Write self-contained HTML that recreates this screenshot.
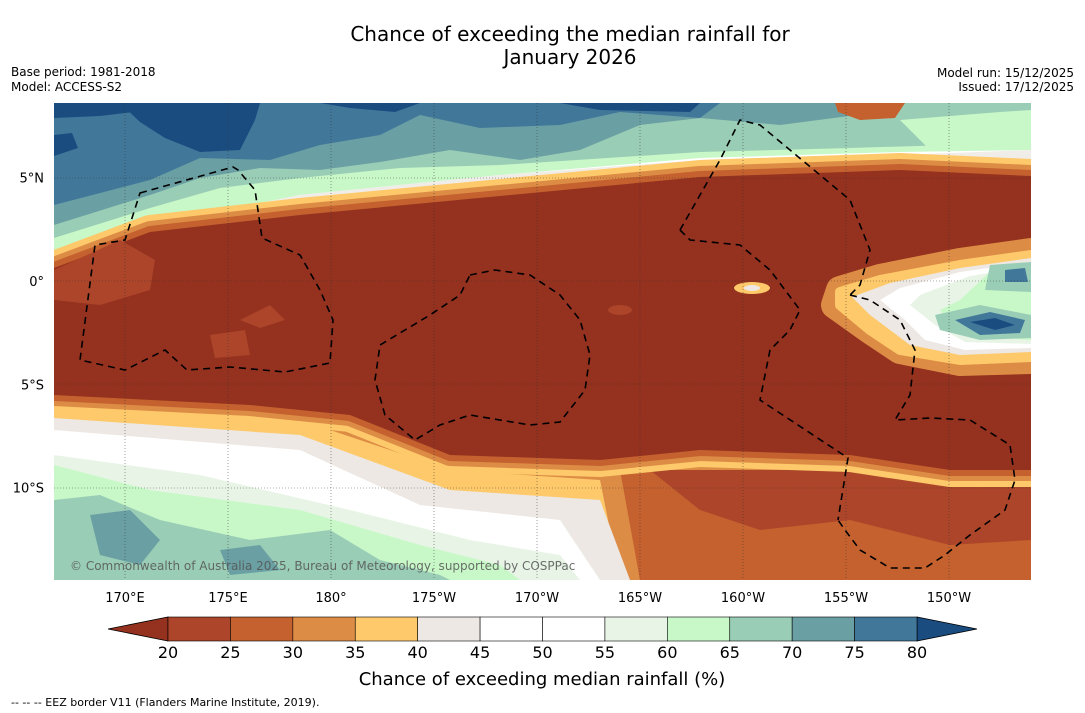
<!DOCTYPE html>
<html><head><meta charset="utf-8">
<style>
body{margin:0;background:#fff;font-family:"DejaVu Sans",sans-serif;}
svg{display:block}
</style></head>
<body>
<svg id="root" width="1085" height="713" viewBox="0 0 1085 713" xmlns="http://www.w3.org/2000/svg" font-family="DejaVu Sans, sans-serif">
<defs><clipPath id="pc"><rect x="54" y="103" width="977" height="477"/></clipPath></defs>
<text x="570" y="41" text-anchor="middle" font-size="20">Chance of exceeding the median rainfall for</text>
<text x="570" y="64" text-anchor="middle" font-size="20">January 2026</text>
<text x="11" y="76" font-size="12">Base period: 1981-2018</text>
<text x="11" y="91" font-size="12">Model: ACCESS-S2</text>
<text x="1074" y="77" text-anchor="end" font-size="12">Model run: 15/12/2025</text>
<text x="1074" y="91" text-anchor="end" font-size="12">Issued: 17/12/2025</text>

<g clip-path="url(#pc)">
<rect x="54" y="103" width="977" height="477" fill="#ffffff"/>
<path fill="#c8f8c8" d="M54,103 H1031 V150 L900,152 L700,158 L500,175 L300,195 L150,225 L54,252 Z"/>
<path fill="#9acdb6" d="M54,103 H1031 V140 L950,145 L850,148 L700,152 L500,165 L400,168 L300,178 L220,188 L150,208 L54,238 Z"/>
<path fill="#6aa0a3" d="M54,103 H900 L880,112 L780,125 L700,118 L640,125 L580,150 L520,160 L450,150 L380,162 L320,170 L260,168 L200,178 L150,195 L54,225 Z"/>
<path fill="#41789a" d="M54,103 H720 L700,118 L620,112 L560,125 L480,128 L420,115 L380,135 L320,145 L270,160 L200,158 L150,180 L54,205 Z"/>
<path fill="#1a4c80" d="M54,103 H200 L180,113 L150,110 L100,116 L54,118 Z M54,135 L72,133 L78,148 L54,156 Z M120,103 H260 L255,120 L240,150 L200,152 L165,138 L140,122 Z M320,103 H420 L395,112 L350,108 Z M560,103 H700 L690,112 L600,110 Z"/>
<path fill="#6aa0a3" d="M1000,118 L1031,112 V135 L1010,132 Z"/>
<path fill="#c8f8c8" d="M900,120 L1000,112 L1031,110 V150 L930,150 Z"/>
<path fill="#c4612f" d="M835,103 H905 L895,118 L860,120 L838,112 Z"/>
<path fill="#f0ede9" d="M54,252 L150,225 L300,195 L500,175 L700,160 L900,155 L1031,150 V168 L900,170 L700,175 L500,195 L300,215 L150,238 L54,270 Z"/>
<rect x="54" y="380" width="977" height="200" fill="#dd8c45"/>
<path fill="#fdc96a" d="M54,400 L300,420 L450,470 L600,480 L620,580 H54 Z"/>
<path fill="#ede8e3" d="M54,418 L300,435 L450,490 L600,500 L630,580 H54 Z"/>
<path fill="#ffffff" d="M54,430 L300,450 L420,505 L560,520 L600,580 H54 Z"/>
<path fill="#e8f5e6" d="M54,455 L200,475 L350,510 L470,540 L560,555 L580,580 H54 Z"/>
<path fill="#c8f8c8" d="M54,465 L150,490 L300,510 L420,545 L500,565 L520,580 H54 Z"/>
<path fill="#9acdb6" d="M54,500 L100,495 L160,520 L250,540 L330,530 L380,560 L440,575 L450,580 H54 Z"/>
<path fill="#6aa0a3" d="M90,515 L130,510 L160,540 L140,565 L100,555 Z M220,550 L260,545 L280,570 L230,575 Z"/>
<path fill="#c4612f" d="M620,470 L1031,470 V580 L640,580 Z"/>
<path fill="#ac4529" d="M650,470 H1031 V540 L950,545 L850,520 L760,530 L700,510 Z"/>
<g>
<path d="M54,268 L150,232 L300,215 L500,196 L700,177 L900,170 L1031,176 V470 L950,470 L850,455 L700,450 L600,460 L450,455 L350,415 L250,405 L54,395 Z" fill="none" stroke="#fdc96a" stroke-width="34" stroke-linejoin="round"/>
<path d="M54,268 L150,232 L300,215 L500,196 L700,177 L900,170 L1031,176 V470 L950,470 L850,455 L700,450 L600,460 L450,455 L350,415 L250,405 L54,395 Z" fill="none" stroke="#dd8c45" stroke-width="22" stroke-linejoin="round"/>
<path d="M54,268 L150,232 L300,215 L500,196 L700,177 L900,170 L1031,176 V470 L950,470 L850,455 L700,450 L600,460 L450,455 L350,415 L250,405 L54,395 Z" fill="none" stroke="#c4612f" stroke-width="12" stroke-linejoin="round"/>
<path d="M54,268 L150,232 L300,215 L500,196 L700,177 L900,170 L1031,176 V470 L950,470 L850,455 L700,450 L600,460 L450,455 L350,415 L250,405 L54,395 Z" fill="#95311f"/>
<path fill="#ac4529" d="M54,270 L120,240 L155,260 L150,290 L100,305 L54,300 Z M210,335 L245,330 L250,355 L215,358 Z M240,320 L270,305 L285,320 L260,328 Z"/>
</g>
<g>
<path d="M1031,252 L960,262 L880,278 L840,290 L835,305 L870,330 L900,350 L960,362 L1031,360 Z" fill="#fdc96a" stroke="#dd8c45" stroke-width="28" stroke-linejoin="round"/>
<path d="M1031,255 L960,265 L880,280 L840,292 L840,305 L870,330 L900,350 L960,360 L1031,357 Z" fill="#fdc96a" stroke="#fdc96a" stroke-width="10" stroke-linejoin="round"/>
<path fill="#ede8e3" d="M1031,258 L960,268 L890,283 L852,297 L870,315 L890,330 L910,345 L960,355 L1031,352 Z"/>
<path fill="#ffffff" d="M1031,262 L960,272 L900,288 L880,300 L905,320 L925,340 L965,350 L1031,348 Z"/>
<path fill="#e8f5e6" d="M1031,266 L970,276 L920,295 L910,305 L935,325 L965,342 L1031,344 Z"/>
<path fill="#c8f8c8" d="M1031,270 L990,272 L960,300 L940,310 L960,335 L1031,340 Z"/>
<path fill="#9acdb6" d="M1031,262 L990,265 L985,290 L1031,292 Z M935,315 L980,305 L1031,315 V338 L980,340 L940,330 Z"/>
<path fill="#41789a" d="M955,320 L990,312 L1025,320 L1020,333 L980,335 Z M1005,270 L1025,268 L1028,282 L1005,282 Z"/>
<path fill="#1a4c80" d="M970,322 L995,318 L1015,325 L995,330 Z"/>
<ellipse cx="752" cy="288" rx="18" ry="6" fill="#fdc96a"/>
<ellipse cx="752" cy="288" rx="8" ry="3" fill="#ede8e3"/>
<ellipse cx="620" cy="310" rx="12" ry="5" fill="#ac4529"/>
</g>
<g stroke="#333" stroke-width="0.6" stroke-dasharray="1,2" opacity="0.8">
<line x1="125" y1="103" x2="125" y2="580"/><line x1="228" y1="103" x2="228" y2="580"/><line x1="331" y1="103" x2="331" y2="580"/><line x1="434" y1="103" x2="434" y2="580"/><line x1="537" y1="103" x2="537" y2="580"/><line x1="640" y1="103" x2="640" y2="580"/><line x1="743" y1="103" x2="743" y2="580"/><line x1="846" y1="103" x2="846" y2="580"/><line x1="949" y1="103" x2="949" y2="580"/>
<line x1="54" y1="178" x2="1031" y2="178"/><line x1="54" y1="281" x2="1031" y2="281"/><line x1="54" y1="384" x2="1031" y2="384"/><line x1="54" y1="488" x2="1031" y2="488"/>
</g>
<g fill="none" stroke="#000" stroke-width="1.6" stroke-dasharray="7,5">
<path d="M140,193 L233,167 L238,170 L255,190 L262,238 L300,255 L320,290 L333,320 L330,363 L285,372 L230,367 L187,370 L165,350 L125,370 L80,360 L95,245 L125,240 Z"/>
<path d="M470,275 L495,270 L530,275 L560,295 L580,320 L590,355 L585,390 L560,422 L530,425 L470,415 L440,425 L415,440 L385,415 L375,380 L380,345 L430,315 L460,295 Z"/>
<path d="M680,230 L720,160 L740,120 L760,125 L790,150 L820,175 L850,200 L870,250 L860,285 L850,295"/>
<path d="M680,230 L690,240 L740,245 L770,270 L800,310 L790,330 L770,350 L760,400 L848,458 L838,520"/>
<path d="M850,295 L870,300 L900,320 L915,350 L910,395 L895,420 L930,418 L970,420 L1010,445 L1015,480 L1005,510 L970,535 L945,555 L925,568 L890,568 L860,550 L845,530 L838,520"/>
</g>
<text x="70" y="570" font-size="12" fill="#555" opacity="0.85">© Commonwealth of Australia 2025, Bureau of Meteorology, supported by COSPPac</text>
</g>
<g id="axes" font-size="13"></g>
<g id="cbar"></g>
<text x="542" y="685" text-anchor="middle" font-size="18">Chance of exceeding median rainfall (%)</text>
<text x="11" y="706" font-size="11">--  --  -- EEZ border V11 (Flanders Marine Institute, 2019).</text>
</svg>
<script>
const lonTicks = ["170°E","175°E","180°","175°W","170°W","165°W","160°W","155°W","150°W"];
const lonValues = [170,175,180,185,190,195,200,205,210];
const latTicks = ["5°N","0°","5°S","10°S"];
const latValues = [5,0,-5,-10];
const cbarBounds = [20,25,30,35,40,45,50,55,60,65,70,75,80];
const cbarColors = ["#ac4529","#c4612f","#dd8c45","#fdc96a","#ede8e3","#ffffff","#ffffff","#e8f5e6","#c8f8c8","#9acdb6","#6aa0a3","#41789a"];
const underColor = "#95311f", overColor = "#1a4c80";
const NS="http://www.w3.org/2000/svg";
const xLon = v => 125 + (v-170)*20.6;
const yLat = v => 281 - v*20.66;
const xCb = v => 168 + (v-20)/60*749;
const axes=document.getElementById('axes'), cb=document.getElementById('cbar');
function mk(tag,attrs,parent){const e=document.createElementNS(NS,tag);for(const k in attrs)e.setAttribute(k,attrs[k]);parent.appendChild(e);return e;}
lonTicks.forEach((t,i)=>{const e=mk('text',{x:xLon(lonValues[i]),y:602,'text-anchor':'middle'},axes);e.textContent=t;

});
latTicks.forEach((t,i)=>{const e=mk('text',{x:44,y:yLat(latValues[i])+5,'text-anchor':'end'},axes);e.textContent=t;

});
const y0=617,h=24;
const under=mk('polygon',{points:`108,${y0+h/2} ${xCb(20)},${y0} ${xCb(20)},${y0+h}`,fill:underColor,stroke:'#000','stroke-width':0.8},cb);


const over=mk('polygon',{points:`977,${y0+h/2} ${xCb(80)},${y0} ${xCb(80)},${y0+h}`,fill:overColor,stroke:'#000','stroke-width':0.8},cb);


cbarColors.forEach((c,i)=>{const r=mk('rect',{x:xCb(cbarBounds[i]),y:y0,width:xCb(cbarBounds[i+1])-xCb(cbarBounds[i]),height:h,fill:c,stroke:'#000','stroke-width':0.6},cb);

});
cbarBounds.forEach(v=>{const t=mk('text',{x:xCb(v),y:658,'text-anchor':'middle','font-size':16},cb);t.textContent=v;

});
</script>
</body></html>
